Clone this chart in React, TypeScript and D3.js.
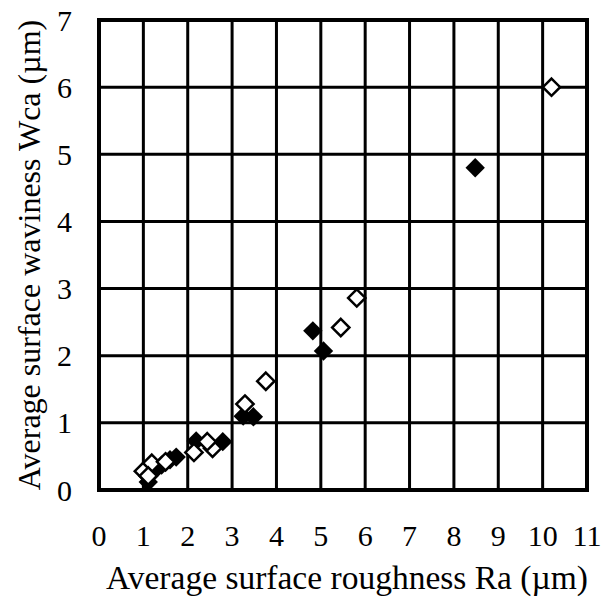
import React from "react";
import * as d3 from "d3";

const xTicks = [0, 1, 2, 3, 4, 5, 6, 7, 8, 9, 10, 11];
const yTicks = [0, 1, 2, 3, 4, 5, 6, 7];

const filledX = [8.48, 4.82, 5.06, 3.25, 3.48, 2.79, 2.19, 1.74, 1.11, 1.19, 1.41, 1.6];
const filledY = [4.8, 2.37, 2.07, 1.1, 1.09, 0.72, 0.73, 0.49, 0.12, 0.25, 0.37, 0.45];

const hollowX = [10.2, 5.81, 5.45, 3.76, 3.29, 2.56, 2.14, 1.0, 1.19, 2.44, 1.5, 1.11];
const hollowY = [6.0, 2.86, 2.42, 1.62, 1.28, 0.62, 0.56, 0.28, 0.4, 0.72, 0.42, 0.21];

const xTitle = "Average surface roughness Ra (\u00b5m)";
const yTitle = "Average surface waviness Wca (\u00b5m)";

export default function App() {
  const W = 602;
  const H = 597;
  const left = 99, right = 587, top = 20, bottom = 490;
  const x = d3.scaleLinear().domain([0, 11]).range([left, right]);
  const y = d3.scaleLinear().domain([0, 7]).range([bottom, top]);
  const diamond = d3.symbol().type(d3.symbolDiamond2);
  const filledPath = diamond.size(240)() as string;
  const hollowPath = diamond.size(190)() as string;
  const font = "'Liberation Serif', 'Times New Roman', serif";

  return (
    <svg
      width={W}
      height={H}
      style={{ position: "absolute", left: 0, top: 0, background: "#fff" }}
      fontFamily={font}
    >
      <rect x={0} y={0} width={W} height={H} fill="#fff" />
      {xTicks.map((t) => (
        <line key={"gx" + t} x1={x(t)} x2={x(t)} y1={top} y2={bottom} stroke="#000" strokeWidth={3} />
      ))}
      {yTicks.map((t) => (
        <line key={"gy" + t} x1={left} x2={right} y1={y(t)} y2={y(t)} stroke="#000" strokeWidth={3} />
      ))}
      <rect x={left} y={top} width={right - left} height={bottom - top} fill="none" stroke="#000" strokeWidth={4} />
      {filledX.map((v, i) => (
        <path key={"f" + i} d={filledPath} transform={`translate(${x(v)},${y(filledY[i])})`} fill="#000" />
      ))}
      {hollowX.map((v, i) => (
        <path
          key={"h" + i}
          d={hollowPath}
          transform={`translate(${x(v)},${y(hollowY[i])})`}
          fill="#fff"
          stroke="#000"
          strokeWidth={2.5}
        />
      ))}
      {xTicks.map((t) => (
        <text key={"tx" + t} x={x(t)} y={546} textAnchor="middle" fontSize={30} fill="#000">
          {t}
        </text>
      ))}
      {yTicks.map((t) => (
        <text key={"ty" + t} x={72} y={y(t) + 10.5} textAnchor="end" fontSize={30} fill="#000">
          {t}
        </text>
      ))}
      <text x={347} y={589} textAnchor="middle" fontSize={33.5} fill="#000">
        {xTitle}
      </text>
      <text
        transform={`translate(40,${(top + bottom) / 2}) rotate(-90)`}
        textAnchor="middle"
        fontSize={32}
        fill="#000"
      >
        {yTitle}
      </text>
    </svg>
  );
}
